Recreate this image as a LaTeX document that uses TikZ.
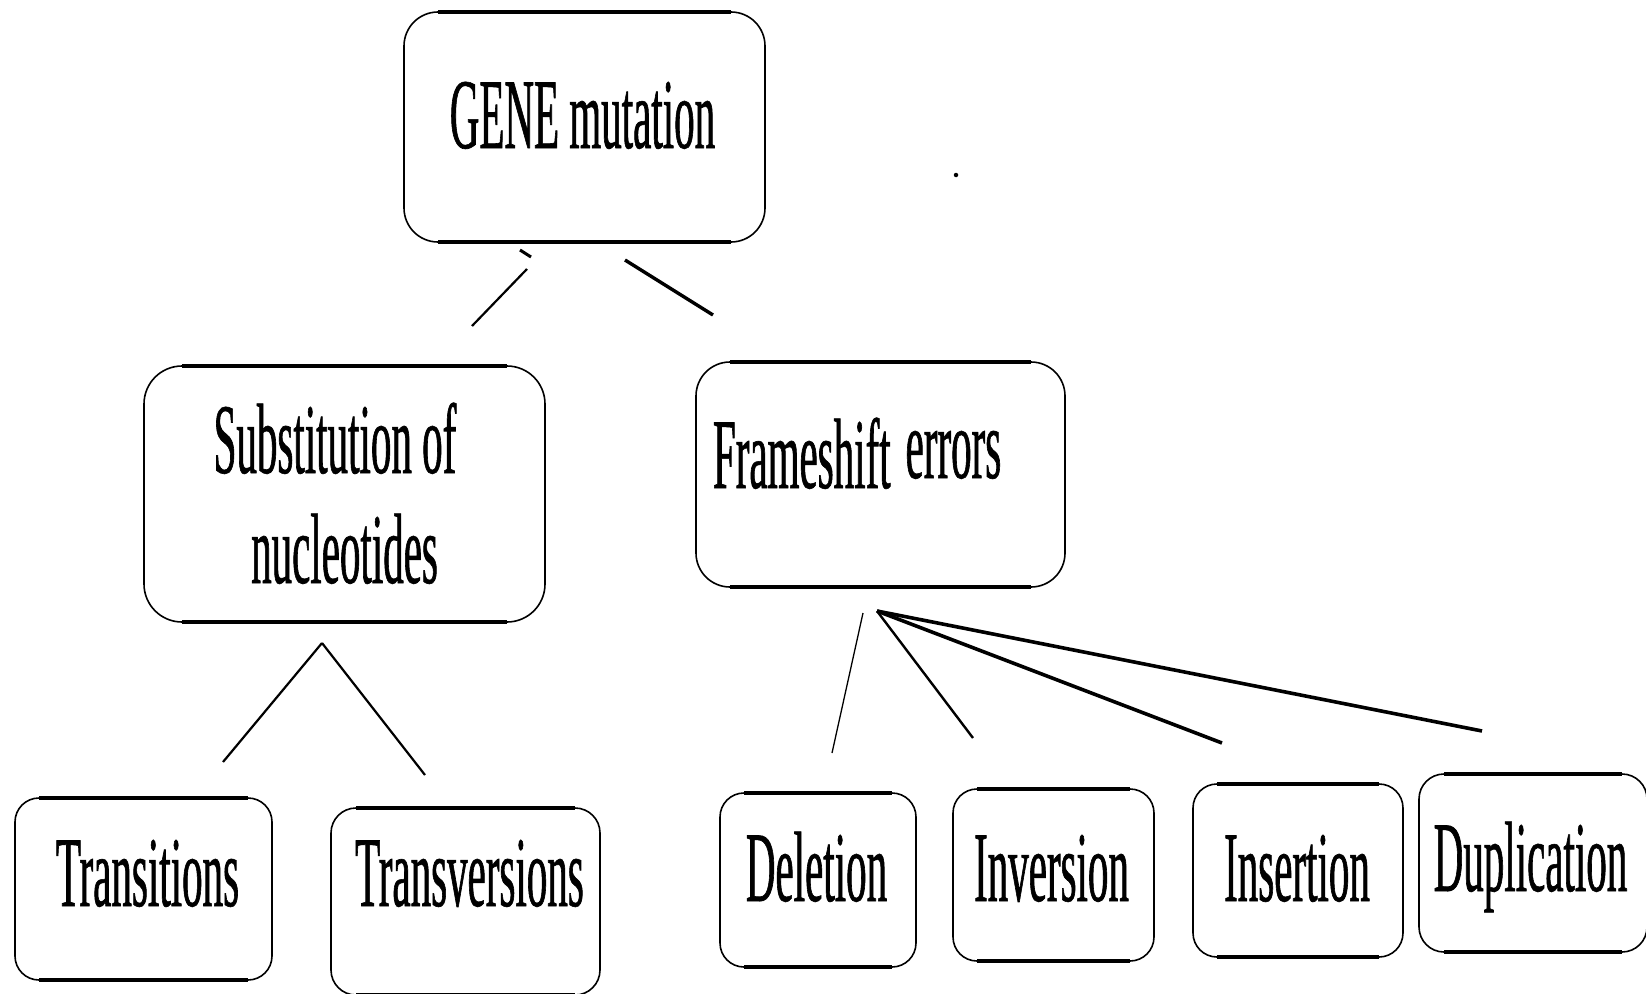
\documentclass[tikz,border=0pt]{standalone}
\usepackage{fontspec}
\newfontfamily\labelfont{Liberation Serif}[FakeStretch=0.41, FakeBold=0.6]

\tikzset{
  % rounded box: thin sides, heavier top and bottom edges
  rbox/.style={draw, line width=1.6pt, rounded corners=#1, inner sep=0pt, outer sep=0pt,
    append after command={
      ([xshift=#1]\tikzlastnode.north west) edge[line width=3.3pt] ([xshift=-#1]\tikzlastnode.north east)
      ([xshift=#1]\tikzlastnode.south west) edge[line width=3.3pt] ([xshift=-#1]\tikzlastnode.south east)
    }},
  rbox/.default=25pt,
  lbl/.style={inner sep=0pt, outer sep=0pt, font=\labelfont\fontsize{100}{110}\selectfont},
  link/.style={draw, line width=#1},
  link/.default=2pt,
  speck/.style={fill, circle, inner sep=0pt, minimum size=4.5pt},
}

\begin{document}
\begin{tikzpicture}[x=1pt, y=-1pt]
\useasboundingbox (0,0) rectangle (1646,993);

% boxes
\node[rbox=34pt, minimum width=361pt, minimum height=230pt] (gene)   at (584.5,127)  {};
\node[rbox=38pt, minimum width=401pt, minimum height=256pt] (subst)  at (344.5,494)  {};
\node[rbox=34pt, minimum width=369pt, minimum height=225pt] (frame)  at (880.5,474.5) {};
\node[rbox=24pt, minimum width=257pt, minimum height=182pt] (trans)  at (143.5,889)  {};
\node[rbox=25pt, minimum width=269pt, minimum height=187pt] (transv) at (465.5,901.5) {};
\node[rbox=24pt, minimum width=196pt, minimum height=174pt] (del)    at (818,880)    {};
\node[rbox=24pt, minimum width=201pt, minimum height=172pt] (inv)    at (1053.5,875) {};
\node[rbox=24pt, minimum width=210pt, minimum height=173pt] (ins)    at (1298,870.5) {};
\node[rbox=25pt, minimum width=228pt, minimum height=178pt] (dup)    at (1533,863)   {};

% labels
\node[lbl, anchor=base] (geneText)   at (582.5,148) {GENE mutation};
\node[lbl, anchor=base] (substTop)   at (335,473) {Substitution of};
\node[lbl, anchor=base] (substBot)   at (344.5,583) {nucleotides};
\node[lbl, anchor=base west] (frameText) at (713,488) {Frameshift\hspace{15pt}\raisebox{10pt}{errors}};
\node[lbl, anchor=base] (transText)  at (147.5,906) {Transitions};
\node[lbl, anchor=base] (transvText) at (469.5,906) {Transversions};
\node[lbl, anchor=base] (delText)    at (816.5,901) {Deletion};
\node[lbl, anchor=base] (invText)    at (1051.5,901) {Inversion};
\node[lbl, anchor=base] (insText)    at (1297,901) {Insertion};
\node[lbl, anchor=base] (dupText)    at (1530.5,891) {Duplication};

\node[speck] (speck) at (956,175) {};

% connector ends
\coordinate (gTickA) at (520,250);
\coordinate (gTickB) at (531,257);
\coordinate (gLeftA) at (527,269);
\coordinate (gLeftB) at (472,326);
\coordinate (gRightA) at (625,260);
\coordinate (gRightB) at (713,315);
\coordinate (sApex) at (322,643);
\coordinate (sLeft) at (223,762);
\coordinate (sRight) at (425,775);
\coordinate (fApex) at (877,611);
\coordinate (fDelA) at (863,613);
\coordinate (fDelB) at (832,753);
\coordinate (fInv) at (973,738);
\coordinate (fIns) at (1222,743);
\coordinate (fDup) at (1482,731);

% connectors
\draw[link=3pt]   (gTickA) -- (gTickB);
\draw[link=2.2pt] (gLeftA) -- (gLeftB);
\draw[link=3.4pt] (gRightA) -- (gRightB);
\draw[link=2.2pt] (sApex) -- (sLeft);
\draw[link=2.2pt] (sApex) -- (sRight);
\draw[link=1.3pt] (fDelA) -- (fDelB);
\draw[link=2.4pt] (fApex) -- (fInv);
\draw[link=3.6pt] (fApex) -- (fIns);
\draw[link=3.6pt] (fApex) -- (fDup);
\end{tikzpicture}
\end{document}
